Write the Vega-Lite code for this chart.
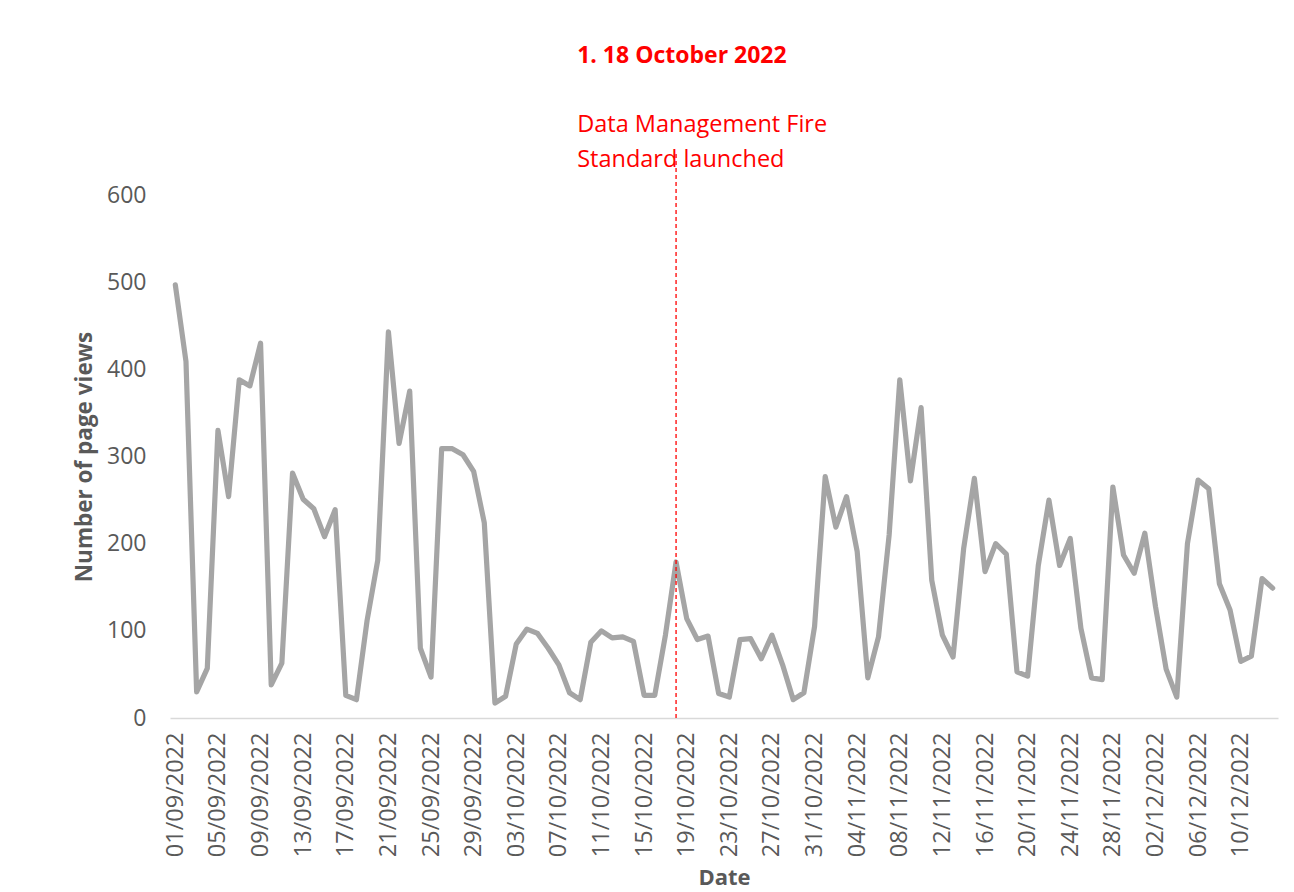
{
  "$schema": "https://vega.github.io/schema/vega-lite/v6.json",
  "width": 1108,
  "height": 523,
  "autosize": {"type": "none"},
  "padding": {"left": 170, "top": 195, "right": 16, "bottom": 174},
  "background": "white",
  "config": {"view": {"stroke": null}, "font": "Open Sans"},
  "data": {"values": [
    {"date": "01/09/2022", "views": 497}, {"date": "02/09/2022", "views": 409}, {"date": "03/09/2022", "views": 30}, {"date": "04/09/2022", "views": 57},
    {"date": "05/09/2022", "views": 330}, {"date": "06/09/2022", "views": 254}, {"date": "07/09/2022", "views": 388}, {"date": "08/09/2022", "views": 381},
    {"date": "09/09/2022", "views": 430}, {"date": "10/09/2022", "views": 38}, {"date": "11/09/2022", "views": 63}, {"date": "12/09/2022", "views": 281},
    {"date": "13/09/2022", "views": 251}, {"date": "14/09/2022", "views": 240}, {"date": "15/09/2022", "views": 208}, {"date": "16/09/2022", "views": 239},
    {"date": "17/09/2022", "views": 26}, {"date": "18/09/2022", "views": 21}, {"date": "19/09/2022", "views": 112}, {"date": "20/09/2022", "views": 181},
    {"date": "21/09/2022", "views": 443}, {"date": "22/09/2022", "views": 315}, {"date": "23/09/2022", "views": 375}, {"date": "24/09/2022", "views": 80},
    {"date": "25/09/2022", "views": 47}, {"date": "26/09/2022", "views": 309}, {"date": "27/09/2022", "views": 309}, {"date": "28/09/2022", "views": 302},
    {"date": "29/09/2022", "views": 283}, {"date": "30/09/2022", "views": 224}, {"date": "01/10/2022", "views": 17}, {"date": "02/10/2022", "views": 25},
    {"date": "03/10/2022", "views": 85}, {"date": "04/10/2022", "views": 102}, {"date": "05/10/2022", "views": 97}, {"date": "06/10/2022", "views": 80},
    {"date": "07/10/2022", "views": 61}, {"date": "08/10/2022", "views": 29}, {"date": "09/10/2022", "views": 21}, {"date": "10/10/2022", "views": 87},
    {"date": "11/10/2022", "views": 100}, {"date": "12/10/2022", "views": 92}, {"date": "13/10/2022", "views": 93}, {"date": "14/10/2022", "views": 88},
    {"date": "15/10/2022", "views": 26}, {"date": "16/10/2022", "views": 26}, {"date": "17/10/2022", "views": 95}, {"date": "18/10/2022", "views": 179},
    {"date": "19/10/2022", "views": 114}, {"date": "20/10/2022", "views": 90}, {"date": "21/10/2022", "views": 94}, {"date": "22/10/2022", "views": 28},
    {"date": "23/10/2022", "views": 24}, {"date": "24/10/2022", "views": 90}, {"date": "25/10/2022", "views": 91}, {"date": "26/10/2022", "views": 68},
    {"date": "27/10/2022", "views": 95}, {"date": "28/10/2022", "views": 61}, {"date": "29/10/2022", "views": 21}, {"date": "30/10/2022", "views": 29},
    {"date": "31/10/2022", "views": 105}, {"date": "01/11/2022", "views": 277}, {"date": "02/11/2022", "views": 219}, {"date": "03/11/2022", "views": 254},
    {"date": "04/11/2022", "views": 191}, {"date": "05/11/2022", "views": 46}, {"date": "06/11/2022", "views": 93}, {"date": "07/11/2022", "views": 210},
    {"date": "08/11/2022", "views": 388}, {"date": "09/11/2022", "views": 272}, {"date": "10/11/2022", "views": 356}, {"date": "11/11/2022", "views": 158},
    {"date": "12/11/2022", "views": 95}, {"date": "13/11/2022", "views": 70}, {"date": "14/11/2022", "views": 195}, {"date": "15/11/2022", "views": 275},
    {"date": "16/11/2022", "views": 168}, {"date": "17/11/2022", "views": 200}, {"date": "18/11/2022", "views": 188}, {"date": "19/11/2022", "views": 53},
    {"date": "20/11/2022", "views": 48}, {"date": "21/11/2022", "views": 175}, {"date": "22/11/2022", "views": 250}, {"date": "23/11/2022", "views": 175},
    {"date": "24/11/2022", "views": 206}, {"date": "25/11/2022", "views": 103}, {"date": "26/11/2022", "views": 46}, {"date": "27/11/2022", "views": 44},
    {"date": "28/11/2022", "views": 265}, {"date": "29/11/2022", "views": 187}, {"date": "30/11/2022", "views": 166}, {"date": "01/12/2022", "views": 212},
    {"date": "02/12/2022", "views": 128}, {"date": "03/12/2022", "views": 56}, {"date": "04/12/2022", "views": 24}, {"date": "05/12/2022", "views": 200},
    {"date": "06/12/2022", "views": 273}, {"date": "07/12/2022", "views": 263}, {"date": "08/12/2022", "views": 154}, {"date": "09/12/2022", "views": 124},
    {"date": "10/12/2022", "views": 65}, {"date": "11/12/2022", "views": 71}, {"date": "12/12/2022", "views": 160}, {"date": "13/12/2022", "views": 149}
  ]},
  "layer": [
    {
      "mark": {"type": "line", "color": "#A5A5A5", "strokeWidth": 5.2, "strokeJoin": "round", "strokeCap": "round"},
      "encoding": {
        "x": {
          "field": "date", "type": "ordinal", "sort": null,
          "scale": {"type": "point", "padding": 0.5},
          "axis": {
            "values": ["01/09/2022", "05/09/2022", "09/09/2022", "13/09/2022", "17/09/2022", "21/09/2022", "25/09/2022", "29/09/2022", "03/10/2022", "07/10/2022", "11/10/2022", "15/10/2022", "19/10/2022", "23/10/2022", "27/10/2022", "31/10/2022", "04/11/2022", "08/11/2022", "12/11/2022", "16/11/2022", "20/11/2022", "24/11/2022", "28/11/2022", "02/12/2022", "06/12/2022", "10/12/2022"],
            "labelAngle": -90, "labelFontSize": 23.5, "labelColor": "#595959", "labelPadding": 14, "labelOverlap": false,
            "ticks": false, "grid": false, "domainColor": "#D9D9D9", "domainWidth": 1.5,
            "title": "Date", "titleFontSize": 22, "titleFontWeight": "bold", "titleColor": "#595959", "titlePadding": 11
          }
        },
        "y": {
          "field": "views", "type": "quantitative",
          "scale": {"domain": [0, 600], "nice": false},
          "axis": {
            "values": [0, 100, 200, 300, 400, 500, 600],
            "grid": false, "domain": false, "ticks": false,
            "labelFontSize": 23, "labelColor": "#595959", "labelPadding": 24,
            "title": "Number of page views", "titleFontSize": 22.5, "titleFontWeight": "bold", "titleColor": "#595959", "titlePadding": 10
          }
        }
      }
    },
    {
      "transform": [{"filter": "datum.date == '18/10/2022'"}],
      "mark": {"type": "rule", "color": "#FF0000", "strokeWidth": 1.3, "strokeDash": [4, 3]},
      "encoding": {
        "x": {"field": "date", "type": "ordinal", "sort": null},
        "y": {"datum": 0, "type": "quantitative"},
        "y2": {"datum": 650}
      }
    },
    {
      "transform": [{"filter": "datum.date == '09/10/2022'"}],
      "mark": {"type": "text", "text": "1. 18 October 2022", "align": "left", "baseline": "middle", "dx": -3, "fontSize": 23, "fontWeight": "bold", "color": "#FF0000"},
      "encoding": {
        "x": {"field": "date", "type": "ordinal", "sort": null},
        "y": {"datum": 760, "type": "quantitative"}
      }
    },
    {
      "transform": [{"filter": "datum.date == '09/10/2022'"}],
      "mark": {"type": "text", "text": "Data Management Fire", "align": "left", "baseline": "middle", "dx": -3, "fontSize": 23.5, "color": "#FF0000"},
      "encoding": {
        "x": {"field": "date", "type": "ordinal", "sort": null},
        "y": {"datum": 680, "type": "quantitative"}
      }
    },
    {
      "transform": [{"filter": "datum.date == '09/10/2022'"}],
      "mark": {"type": "text", "text": "Standard launched", "align": "left", "baseline": "middle", "dx": -3, "fontSize": 23.5, "color": "#FF0000"},
      "encoding": {
        "x": {"field": "date", "type": "ordinal", "sort": null},
        "y": {"datum": 640, "type": "quantitative"}
      }
    }
  ]
}
